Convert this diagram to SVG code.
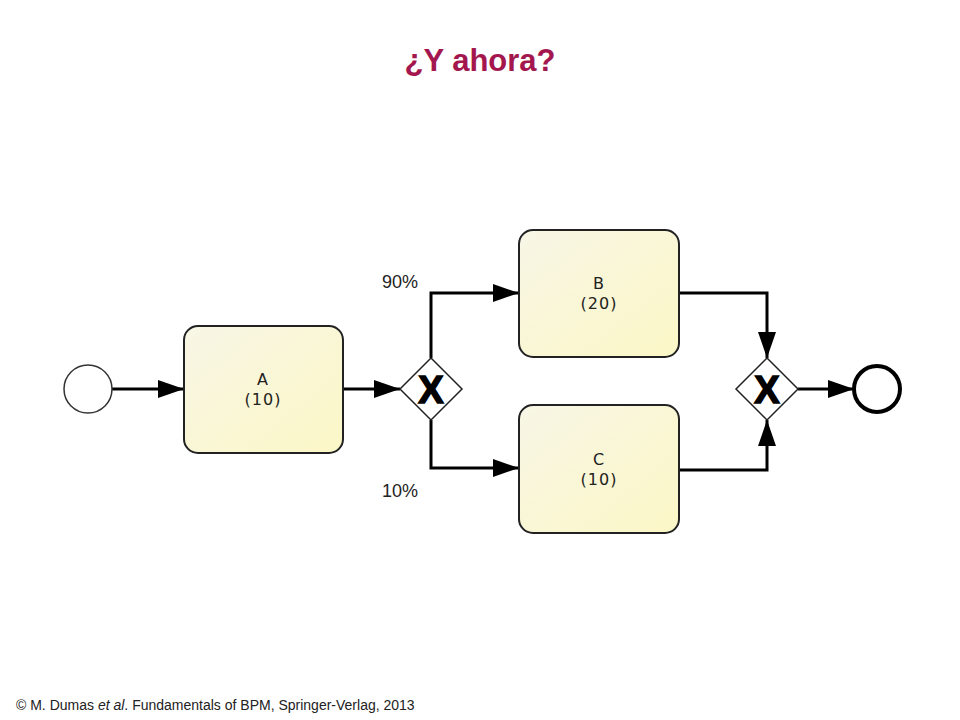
<svg xmlns="http://www.w3.org/2000/svg" width="960" height="720" viewBox="0 0 960 720">
<defs>
<linearGradient id="g" x1="0" y1="0" x2="1" y2="1"><stop offset="0" stop-color="#f8f6e6"/><stop offset="1" stop-color="#fbf7c6"/></linearGradient>
<marker id="ar" markerWidth="26" markerHeight="18" refX="26" refY="9" orient="auto" markerUnits="userSpaceOnUse"><path d="M0,0 L26,9 L0,18 Z" fill="#000"/></marker>
<style>
.task{fill:url(#g);stroke:#222;stroke-width:2}
.tl{font-family:"DejaVu Sans",sans-serif;font-size:16px;fill:#222;text-anchor:middle;letter-spacing:1px}
.gw{fill:#fff;stroke:#222;stroke-width:1.5}
.gx{font-family:"Liberation Sans",sans-serif;font-weight:bold;font-size:38px;text-anchor:middle;stroke:#000;stroke-width:1.5}
.c{fill:none;stroke:#000;stroke-width:3;marker-end:url(#ar)}
.lbl{font-family:"Liberation Sans",sans-serif;font-size:18px;fill:#222}
</style>
</defs>
<rect width="960" height="720" fill="#fff"/>
<text x="480" y="71" text-anchor="middle" font-family="Liberation Sans Narrow, Liberation Sans, sans-serif" font-weight="bold" font-size="31" fill="#a3174e">¿Y ahora?</text>
<g id="connectors">
<path class="c" d="M112,389 H184"/>
<path class="c" d="M343,389 H400"/>
<path class="c" d="M431,358 V293 H519"/>
<path class="c" d="M431,420 V468 H519"/>
<path class="c" d="M679,293 H767 V358"/>
<path class="c" d="M679,470 H767 V420"/>
<path class="c" d="M798,389 H854"/>
</g>
<g id="start"><circle cx="88" cy="389" r="24" fill="#fff" stroke="#333" stroke-width="1.5"/></g>
<g id="A"><rect class="task" x="184" y="326" width="159" height="127" rx="14"/><text class="tl" x="263" y="385">A</text><text class="tl" x="263" y="405">(10)</text></g>
<g id="G1"><path class="gw" d="M431,358 L462,389 L431,420 L400,389 Z"/><text class="gx" x="431" y="403">X</text></g>
<g id="B"><rect class="task" x="519" y="230" width="160" height="127" rx="14"/><text class="tl" x="599" y="289">B</text><text class="tl" x="599" y="309">(20)</text></g>
<g id="C"><rect class="task" x="519" y="405" width="160" height="128" rx="14"/><text class="tl" x="599" y="465">C</text><text class="tl" x="599" y="485">(10)</text></g>
<g id="G2"><path class="gw" d="M767,358 L798,389 L767,420 L736,389 Z"/><text class="gx" x="767" y="403">X</text></g>
<g id="end"><circle cx="877" cy="389" r="23" fill="#fff" stroke="#000" stroke-width="4"/></g>
<text class="lbl" x="382" y="288">90%</text>
<text class="lbl" x="382" y="497">10%</text>
<text x="16" y="710" font-family="Liberation Sans Narrow, Liberation Sans, sans-serif" font-size="14" fill="#222">© M. Dumas <tspan font-style="italic">et al</tspan>. Fundamentals  of BPM, Springer-Verlag,  2013</text>
</svg>
